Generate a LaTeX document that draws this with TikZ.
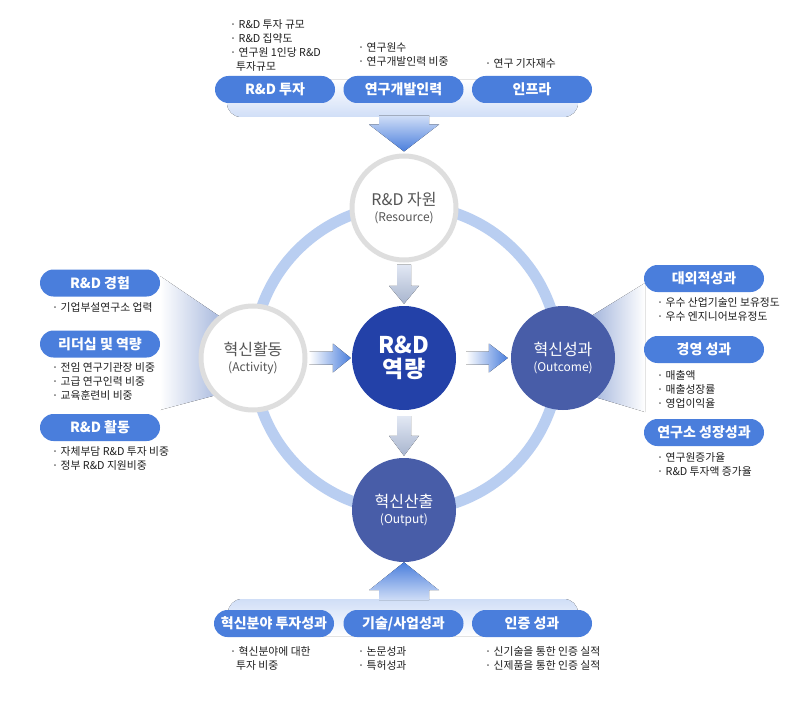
\documentclass[tikz,border=0pt]{standalone}
\usepackage{fontspec}
\setmainfont{Noto Sans CJK KR}
\usetikzlibrary{calc}

\tikzset{
  btn/.style={fill=btnblue, text=white, font=\fontsize{14}{16}\selectfont\bfseries,
    minimum width=120pt, minimum height=27pt, rounded corners=13.5pt, inner sep=0pt},
  note/.style={anchor=north west, align=left, inner sep=0pt, text=notegray,
    font=\fontsize{10.8}{14}\selectfont},
  stagehollow/.style={circle, draw=ringgray, line width=5pt, fill=white, minimum size=104pt,
    inner sep=0pt, align=center, text=titlegray, font=\fontsize{16}{18}\selectfont},
  stagefull/.style={circle, fill=stageblue, minimum size=104pt, inner sep=0pt,
    align=center, text=white, font=\fontsize{16}{18}\selectfont},
  vgrad/.style={top color=grayarrowtop, bottom color=grayarrowbot},
  hgrad/.style={left color=white, right color=btnblue}
}

\begin{document}
\begin{tikzpicture}[x=1pt,y=-1pt]
  % Colors
  \definecolor{btnblue}{HTML}{4A7EDC}
  \definecolor{stageblue}{HTML}{485DA8}
  \definecolor{coreblue}{HTML}{2341A8}
  \definecolor{ringblue}{HTML}{B9CEF1}
  \definecolor{ringgray}{HTML}{DEDEDE}
  \definecolor{titlegray}{HTML}{555555}
  \definecolor{notegray}{HTML}{1E1E1E}
  \definecolor{bandblue}{HTML}{D0DEF7}
  \definecolor{fanblue}{HTML}{9EB1DA}
  \definecolor{grayarrowtop}{HTML}{E2E8F4}
  \definecolor{grayarrowbot}{HTML}{A8B5CE}

  \fill[white] (0,0) rectangle (800,722);
  \useasboundingbox (0,0) rectangle (800,722);

  % big cycle
  \draw[ringblue, line width=11pt] (406,358) circle (153pt);

  % fans behind the side circles
  \fill[left color=white, right color=fanblue] (160,276) -- (228,322) -- (228,392) -- (160,410) -- cycle;
  \fill[left color=fanblue, right color=white] (588,318) -- (645,283) -- (645,412) -- (588,395) -- cycle;

  % top and bottom bands
  \fill[top color=white, bottom color=bandblue, rounded corners=14pt] (227,80) rectangle (578,117);
  \fill[top color=bandblue, bottom color=white, rounded corners=14pt] (228,599) rectangle (578,636);

  % stages
  \node[stagehollow] (res) at (404,208) {R\&D 자원\\[-2pt]{\fontsize{12}{14}\selectfont (Resource)}};
  \node[stagehollow] (act) at (253,358) {혁신활동\\[-2pt]{\fontsize{12}{14}\selectfont (Activity)}};
  \node[stagefull] (outc) at (563,358) {혁신성과\\[-2pt]{\fontsize{12}{14}\selectfont (Outcome)}};
  \node[stagefull] (outp) at (404,510) {혁신산출\\[-2pt]{\fontsize{12}{14}\selectfont (Output)}};
  \node[stagefull, fill=coreblue, font=\fontsize{23}{24}\selectfont\bfseries] (core) at (404,358) {R\&D\\역량};

  % fat arrows
  \fill[top color=bandblue, bottom color=btnblue]
    ($(res.north)+(-25,-38)$) -- ($(res.north)+(25,-38)$) -- ($(res.north)+(25,-29)$)
    -- ($(res.north)+(35,-29)$) -- ($(res.north)+(0,-2)$) -- ($(res.north)+(-35,-29)$)
    -- ($(res.north)+(-25,-29)$) -- cycle;
  \fill[top color=btnblue, bottom color=bandblue]
    ($(outp.south)+(-25,38)$) -- ($(outp.south)+(25,38)$) -- ($(outp.south)+(25,28)$)
    -- ($(outp.south)+(35,28)$) -- ($(outp.south)+(0,0)$) -- ($(outp.south)+(-35,28)$)
    -- ($(outp.south)+(-25,28)$) -- cycle;
  \fill[vgrad]
    ($(res.south)+(-7,2)$) -- ($(res.south)+(7,2)$) -- ($(core.north)+(7,-20)$)
    -- ($(core.north)+(15,-20)$) -- ($(core.north)+(0,-2)$) -- ($(core.north)+(-15,-20)$)
    -- ($(core.north)+(-7,-20)$) -- cycle;
  \fill[vgrad]
    ($(core.south)+(-7,6)$) -- ($(core.south)+(7,6)$) -- ($(outp.north)+(7,-22)$)
    -- ($(outp.north)+(15,-22)$) -- ($(outp.north)+(0,-2)$) -- ($(outp.north)+(-15,-22)$)
    -- ($(outp.north)+(-7,-22)$) -- cycle;
  \fill[hgrad]
    ($(act.east)+(2,-6.5)$) -- ($(core.west)+(-19,-6.5)$) -- ($(core.west)+(-19,-14.5)$)
    -- ($(core.west)+(-1,0)$) -- ($(core.west)+(-19,14.5)$) -- ($(core.west)+(-19,6.5)$)
    -- ($(act.east)+(2,6.5)$) -- cycle;
  \fill[hgrad]
    ($(core.east)+(10,-6.5)$) -- ($(outc.west)+(-22,-6.5)$) -- ($(outc.west)+(-22,-14.5)$)
    -- ($(outc.west)+(-3,0)$) -- ($(outc.west)+(-22,14.5)$) -- ($(outc.west)+(-22,6.5)$)
    -- ($(core.east)+(10,6.5)$) -- cycle;

  % buttons
  \foreach \nm/\x/\y/\txt in {invest/275/89.5/R\&D 투자, staff/403.5/89.5/연구개발인력, infra/532/89.5/인프라,
      exper/100/283/R\&D 경험, lead/100/344/리더십 및 역량, activ/100/427.5/R\&D 활동,
      extern/704/278.5/대외적성과, manage/704/349.5/경영 성과, growth/704/432.5/연구소 성장성과,
      innov/274/623.5/혁신분야 투자성과, techbiz/403.5/623.5/{기술/사업성과}, cert/532/623.5/인증 성과}
    \node[btn] (\nm) at (\x,\y) {\txt};

  % notes
  \node[note] (investnote) at (230,19) {· R\&D 투자 규모\\· R\&D 집약도\\· 연구원 1인당 R\&D\\\hspace*{6pt}투자규모};
  \node[note] (staffnote) at (358,42) {· 연구원수\\· 연구개발인력 비중};
  \node[note] (infranote) at (485,58) {· 연구 기자재수};
  \node[note] (expernote) at (52,302) {· 기업부설연구소 업력};
  \node[note] (leadnote) at (52,362) {· 전임 연구기관장 비중\\· 고급 연구인력 비중\\· 교육훈련비 비중};
  \node[note] (activnote) at (52,446) {· 자체부담 R\&D 투자 비중\\· 정부 R\&D 지원비중};
  \node[note] (externnote) at (657,297) {· 우수 산업기술인 보유정도\\· 우수 엔지니어보유정도};
  \node[note] (managenote) at (657,370) {· 매출액\\· 매출성장률\\· 영업이익율};
  \node[note] (growthnote) at (657,452) {· 연구원증가율\\· R\&D 투자액 증가율};
  \node[note] (innovnote) at (230,646) {· 혁신분야에 대한\\\hspace*{6pt}투자 비중};
  \node[note] (techbiznote) at (358,646) {· 논문성과\\· 특허성과};
  \node[note] (certnote) at (485,646) {· 신기술을 통한 인증 실적\\· 신제품을 통한 인증 실적};
\end{tikzpicture}
\end{document}
